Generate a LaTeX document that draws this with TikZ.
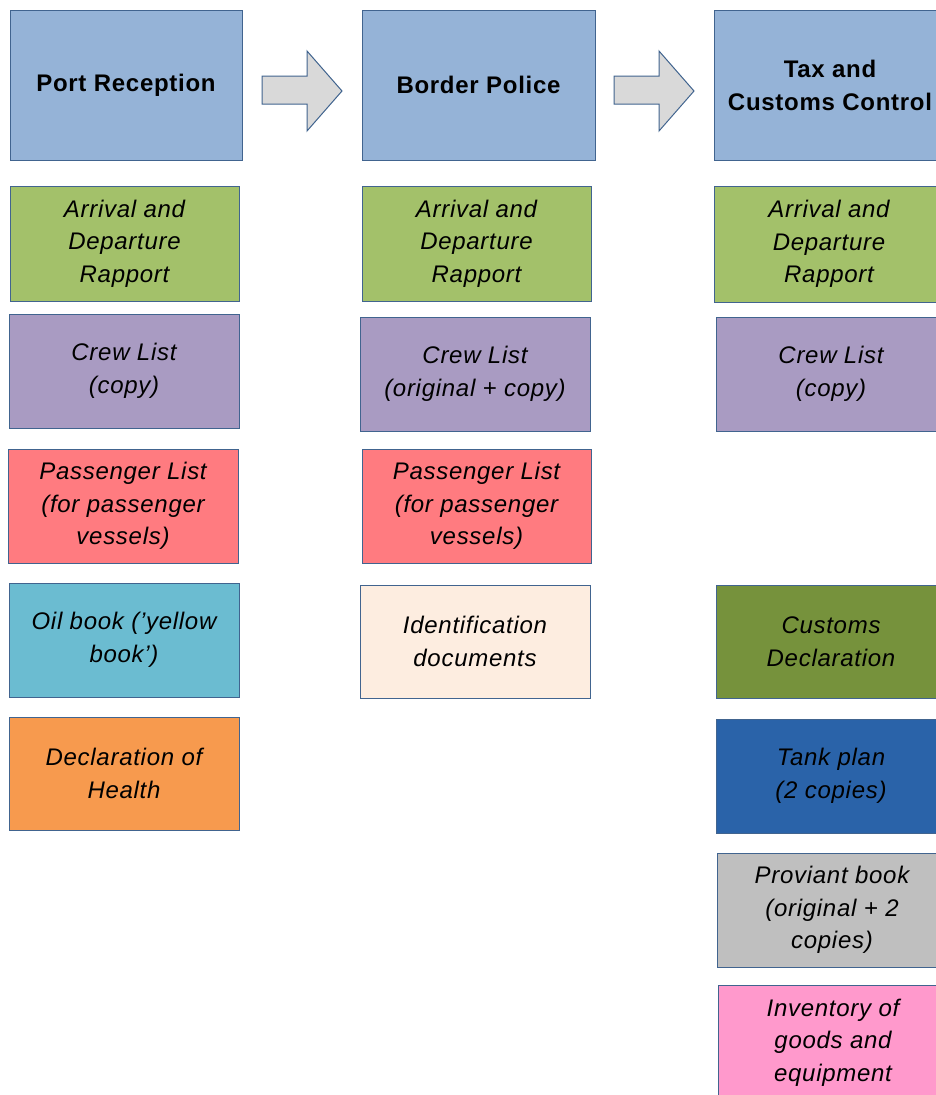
\documentclass[tikz,border=0pt]{standalone}
\usepackage{fontspec}
\setmainfont{Liberation Sans}
\newfontfamily\spacedfont[LetterSpace=3]{Liberation Sans}
\definecolor{hdrfill}{HTML}{95B3D7}
\definecolor{greenfill}{HTML}{A3C16A}
\definecolor{purplefill}{HTML}{A99BC2}
\definecolor{redfill}{HTML}{FF7B80}
\definecolor{cyanfill}{HTML}{6BBCD1}
\definecolor{orangefill}{HTML}{F79A4E}
\definecolor{identfill}{HTML}{FDEDE0}
\definecolor{olivefill}{HTML}{76923C}
\definecolor{bluefill}{HTML}{2A63A9}
\definecolor{grayfill}{HTML}{BFBFBF}
\definecolor{pinkfill}{HTML}{FF99CC}
\definecolor{edge}{HTML}{41648F}
\definecolor{arrowfill}{HTML}{D9D9D9}
\tikzset{
  box/.style={draw=edge, line width=1pt, rectangle, align=center, inner sep=0pt, text=black},
  hdr/.style={box, fill=hdrfill, minimum width=232pt, minimum height=150pt,
    font=\spacedfont\bfseries\fontsize{24}{33}\selectfont},
  doc/.style={box, minimum width=230pt, minimum height=114pt,
    font=\spacedfont\itshape\fontsize{24}{32.5}\selectfont},
  blockarrow/.style={draw=edge, line width=1pt, fill=arrowfill, line join=miter}
}
\begin{document}
\begin{tikzpicture}[x=1pt,y=-1pt]
\useasboundingbox (0,0) rectangle (935,1095);
\fill[white] (0,0) rectangle (935,1095);
% headers
\node[hdr] (h1) at (126,85) {Port Reception};
\node[hdr, minimum width=233pt] (h2) at (478.5,85) {Border Police};
\node[hdr] (h3) at (830,85) {Tax and\\Customs Control};
% block arrows
\draw[blockarrow] (262,76) -- (307,76) -- (307,51) -- (342,91) -- (307,131) -- (307,104) -- (262,104) -- cycle;
\draw[blockarrow] (614,76) -- (659,76) -- (659,51) -- (694,91) -- (659,131) -- (659,104) -- (614,104) -- cycle;
% column 1
\node[doc, fill=greenfill, minimum width=229pt, minimum height=115pt] (a1) at (124.5,243.5) {Arrival and\\Departure\\Rapport};
\node[doc, fill=purplefill] (c1) at (124,371) {Crew List\\(copy)};
\node[doc, fill=redfill] (p1) at (123,506) {Passenger List\\(for passenger\\vessels)};
\node[doc, fill=cyanfill] (o1) at (124,640) {Oil book (’yellow\\book’)};
\node[doc, fill=orangefill, minimum height=113pt] (d1) at (124,773.5) {Declaration of\\Health};
% column 2
\node[doc, fill=greenfill, minimum width=229pt, minimum height=115pt] (a2) at (476.5,243.5) {Arrival and\\Departure\\Rapport};
\node[doc, fill=purplefill] (c2) at (475,374) {Crew List\\(original + copy)};
\node[doc, fill=redfill, minimum width=229pt] (p2) at (476.5,506) {Passenger List\\(for passenger\\vessels)};
\node[doc, fill=identfill, minimum height=113pt] (i2) at (475,641.5) {Identification\\documents};
% column 3
\node[doc, fill=greenfill, minimum height=116pt] (a3) at (829,244) {Arrival and\\Departure\\Rapport};
\node[doc, fill=purplefill] (c3) at (831,374) {Crew List\\(copy)};
\node[doc, fill=olivefill, minimum height=113pt] (cd3) at (831,641.5) {Customs\\Declaration};
\node[doc, fill=bluefill] (t3) at (831,776) {Tank plan\\(2 copies)};
\node[doc, fill=grayfill] (g3) at (832,910) {Proviant book\\(original + 2\\copies)};
\node[doc, fill=pinkfill, minimum height=115pt] (inv3) at (833,1042.5) {Inventory of\\goods and\\equipment};
\end{tikzpicture}
\end{document}
